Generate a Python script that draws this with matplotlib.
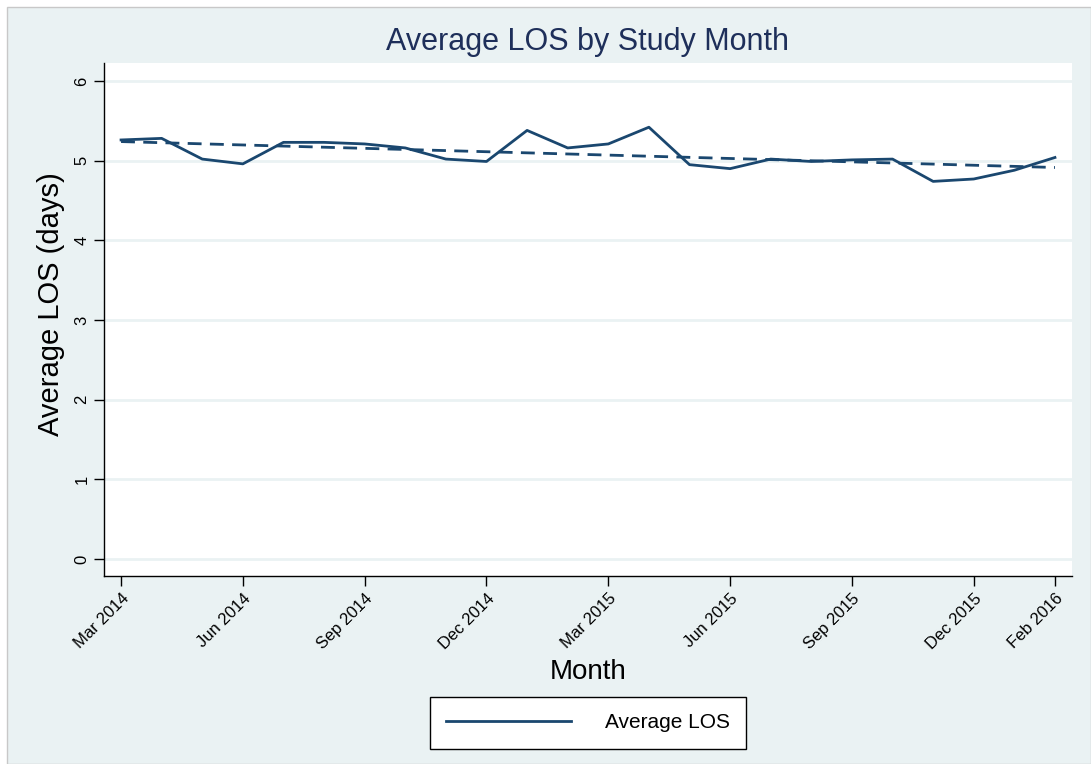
import numpy as np
import matplotlib.pyplot as plt
from matplotlib.patches import Rectangle
from matplotlib.lines import Line2D

months = ["Mar 2014", "Apr 2014", "May 2014", "Jun 2014", "Jul 2014", "Aug 2014",
          "Sep 2014", "Oct 2014", "Nov 2014", "Dec 2014", "Jan 2015", "Feb 2015",
          "Mar 2015", "Apr 2015", "May 2015", "Jun 2015", "Jul 2015", "Aug 2015",
          "Sep 2015", "Oct 2015", "Nov 2015", "Dec 2015", "Jan 2016", "Feb 2016"]
avg_los = [5.26, 5.28, 5.02, 4.96, 5.23, 5.23, 5.21, 5.16, 5.02, 4.99, 5.38, 5.16,
           5.21, 5.42, 4.95, 4.90, 5.02, 4.99, 5.01, 5.02, 4.74, 4.77, 4.88, 5.04]
tick_idx = [0, 3, 6, 9, 12, 15, 18, 21, 23]

bg = "#EAF2F3"
navy = "#1a476f"

plt.rcParams['font.family'] = ['Liberation Sans', 'DejaVu Sans']

fig = plt.figure(figsize=(10.91, 7.64), dpi=100)
fig.patch.set_facecolor("white")
W, H = 1091, 764
fig.patches.append(Rectangle((7 / W, 0), 1 - 7 / W, 1 - 7 / H, transform=fig.transFigure,
                             facecolor=bg, edgecolor="#c8c8c8", linewidth=1, zorder=-1))

ax = fig.add_axes([104 / W, 1 - 576 / H, (1072 - 104) / W, (576 - 63) / H])
ax.set_facecolor("white")

x = np.arange(len(months))
y = np.array(avg_los)
# linear trend (dashed)
b, a = np.polyfit(x, y, 1)
trend = a + b * x

ax.plot(x, y, color=navy, linewidth=2, zorder=3)
ax.plot(x, trend, color=navy, linewidth=2, linestyle=(0, (5, 3)), zorder=3)

ax.set_xlim(-0.42, 23.42)
ax.set_ylim(-0.213, 6.226)
ax.set_yticks(range(0, 7))
ax.set_yticklabels([str(v) for v in range(0, 7)], rotation=90, va="center", fontsize=12)
ax.yaxis.grid(True, color=bg, linewidth=2)
ax.set_axisbelow(True)

ax.set_xticks(tick_idx)
ax.set_xticklabels([months[i] for i in tick_idx], rotation=45, ha="right",
                   rotation_mode="anchor", fontsize=12)
ax.tick_params(axis="both", length=7, width=1, color="black")
for s in ["top", "right"]:
    ax.spines[s].set_visible(False)
for s in ["left", "bottom"]:
    ax.spines[s].set_color("black")
    ax.spines[s].set_linewidth(1)

ax.set_ylabel("Average LOS (days)", fontsize=21)
ax.yaxis.set_label_coords(-0.040, 0.53)
ax.set_xlabel("Month", fontsize=20, labelpad=5)
fig.text((104 + 1072) / 2 / W, 1 - 42 / H, "Average LOS by Study Month",
         ha="center", va="center", fontsize=22, color="#1e2f5a")

handle = Line2D([], [], color=navy, linewidth=2)
leg = fig.legend([handle], ["Average LOS"], loc="center",
                 bbox_to_anchor=(588 / W, 1 - 723 / H), fontsize=15, frameon=True,
                 fancybox=False, edgecolor="black", framealpha=1, handlelength=6,
                 borderpad=0.8, handletextpad=1.6, borderaxespad=0)
leg.get_frame().set_linewidth(1)

fig.savefig("out.png", dpi=100, facecolor=fig.get_facecolor())
